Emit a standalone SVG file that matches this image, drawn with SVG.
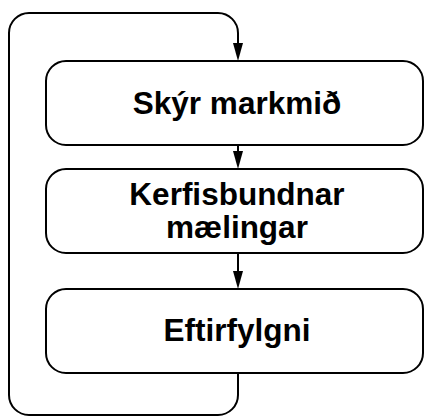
<svg xmlns="http://www.w3.org/2000/svg" width="425" height="417" viewBox="0 0 425 417">
<defs>
<style>
.box{fill:#fff;stroke:#000;stroke-width:2}
.lbl{font-family:"Liberation Sans",Arial,sans-serif;font-weight:bold;font-size:31.5px;fill:#000;text-anchor:middle}
.con{fill:none;stroke:#000;stroke-width:2}
.head{fill:#000;stroke:none}
</style>
</defs>
<g id="connectors">
<path class="con" d="M238,373 V395 A20,20 0 0 1 218,415 H29 A20,20 0 0 1 9,395 V33 A20,20 0 0 1 29,13 H218 A20,20 0 0 1 238,33 V44"/>
<path class="head" d="M233,43 L243,43 L238,61 Z"/>
<path class="con" d="M238,145 V152"/>
<path class="head" d="M233,151 L243,151 L238,169 Z"/>
<path class="con" d="M238,253 V272"/>
<path class="head" d="M233,271 L243,271 L238,289 Z"/>
</g>
<g id="node1">
<rect class="box" x="46" y="61" width="377" height="84" rx="20" ry="20"/>
<text class="lbl" x="237" y="114">Skýr markmið</text>
</g>
<g id="node2">
<rect class="box" x="46" y="169" width="377" height="84" rx="20" ry="20"/>
<text class="lbl" x="237" y="205">Kerfisbundnar</text>
<text class="lbl" x="237" y="238">mælingar</text>
</g>
<g id="node3">
<rect class="box" x="46" y="289" width="377" height="84" rx="20" ry="20"/>
<text class="lbl" x="237" y="341">Eftirfylgni</text>
</g>
</svg>
